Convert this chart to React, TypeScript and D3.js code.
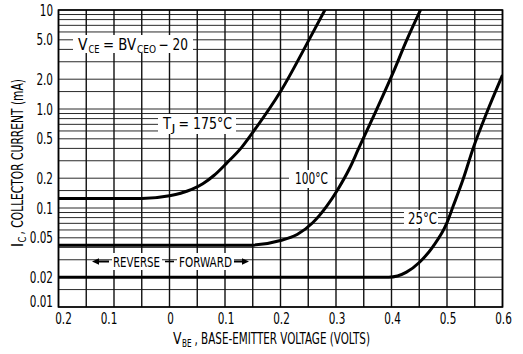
import React from "react";
import * as d3 from "d3";

const xTicks = [-0.2, -0.1, 0, 0.1, 0.2, 0.3, 0.4, 0.5, 0.6];
const xTickLabels = ["0.2", "0.1", "0", "0.1", "0.2", "0.3", "0.4", "0.5", "0.6"];
const yTicks = [0.01, 0.02, 0.05, 0.1, 0.2, 0.5, 1, 2, 5, 10];
const yTickLabels = ["0.01", "0.02", "0.05", "0.1", "0.2", "0.5", "1.0", "2.0", "5.0", "10"];
const gridMultipliers = [1, 1.5, 2, 3, 4, 5, 6, 7, 8, 9];
const gridDecades = [0.01, 0.1, 1];

const t175V = [-0.2, -0.05, 0, 0.02, 0.04, 0.06, 0.08, 0.103, 0.13, 0.15, 0.2, 0.253, 0.282];
const t175I = [0.125, 0.125, 0.133, 0.141, 0.154, 0.176, 0.213, 0.284, 0.41, 0.58, 1.5, 5.2, 10.5];

const t100V = [-0.2, 0.14, 0.2, 0.23, 0.258, 0.283, 0.3035, 0.325, 0.34, 0.373, 0.4025, 0.427, 0.454];
const t100I = [0.042, 0.042, 0.047, 0.054, 0.071, 0.104, 0.155, 0.255, 0.39, 0.98, 2.3, 4.9, 10.5];

const t25V = [-0.2, 0.395, 0.427, 0.451, 0.475, 0.499, 0.511, 0.529, 0.547, 0.571, 0.6];
const t25I = [0.02, 0.02, 0.0225, 0.0285, 0.041, 0.069, 0.104, 0.195, 0.4, 0.9, 2.2];

const FONT = "'DejaVu Sans Condensed','Liberation Sans Narrow',sans-serif";
const LA = "spacingAndGlyphs";

type Part = { t: string; x: number; w: number; sub?: boolean };

function Label({ parts, y, size = 15, subSize = 11 }: { parts: Part[]; y: number; size?: number; subSize?: number }) {
  return (
    <>
      {parts.map((p, k) => (
        <text
          key={k}
          x={p.x}
          y={p.sub ? y + 3 : y}
          fontSize={p.sub ? subSize : size}
          textLength={p.w}
          lengthAdjust={LA}
        >
          {p.t}
        </text>
      ))}
    </>
  );
}

function tickLen(s: string) {
  let w = 0;
  for (const c of s) w += c === "." ? 3.4 : 6.6;
  return w;
}

export default function App() {
  const W = 523, H = 354;
  const x = d3.scaleLinear().domain([-0.2, 0.6]).range([58.5, 502.5]);
  const y = d3.scaleLog().domain([0.01, 10]).range([307, 10]);
  const [x0, x1] = x.range();
  const [yb, yt] = y.range();

  const vGrid = d3.range(-0.2, 0.6001, 0.05);
  const hGrid: number[] = [];
  gridDecades.forEach((d) => gridMultipliers.forEach((m) => hGrid.push(d * m)));
  hGrid.push(10);

  const line = d3
    .line<[number, number]>()
    .x((d) => x(d[0]))
    .y((d) => y(d[1]))
    .curve(d3.curveMonotoneX);

  const series = [
    { v: t175V, i: t175I },
    { v: t100V, i: t100I },
    { v: t25V, i: t25I },
  ];

  return (
    <svg width={W} height={H} style={{ position: "absolute", left: 0, top: 0, background: "#fff" }}>
      <defs>
        <clipPath id="plot">
          <rect x={x0} y={yt} width={x1 - x0} height={yb - yt} />
        </clipPath>
      </defs>
      <rect x={0} y={0} width={W} height={H} fill="#fff" />
      {hGrid.map((g, k) => (
        <line key={"h" + k} x1={x0} x2={x1} y1={y(g)} y2={y(g)} stroke="#2a2a2a" strokeWidth={1} />
      ))}
      {vGrid.map((g, k) => (
        <line key={"v" + k} x1={x(g)} x2={x(g)} y1={yt} y2={yb} stroke="#111" strokeWidth={1.4} />
      ))}
      <rect x={x0} y={yt} width={x1 - x0} height={yb - yt} fill="none" stroke="#000" strokeWidth={1.6} />

      <g clipPath="url(#plot)">
        {series.map((s, k) => (
          <path
            key={"s" + k}
            d={line(s.v.map((v, j) => [v, s.i[j]] as [number, number])) || ""}
            fill="none"
            stroke="#000"
            strokeWidth={3}
            strokeLinejoin="round"
          />
        ))}
      </g>

      <g fontFamily={FONT} fill="#000">
        {/* V_CE annotation */}
        <rect x={73} y={35} width={120} height={18} fill="#fff" />
        <Label
          y={50}
          parts={[
            { t: "V", x: 78, w: 9.5 },
            { t: "CE", x: 88.5, w: 11, sub: true },
            { t: "= BV", x: 103, w: 33 },
            { t: "CEO", x: 137, w: 19, sub: true },
            { t: "− 20", x: 158.5, w: 29.5 },
          ]}
        />

        {/* T_J = 175 */}
        <rect x={158} y={114} width={78} height={20} fill="#fff" />
        <Label
          y={129}
          parts={[
            { t: "T", x: 163, w: 8 },
            { t: "J", x: 171.5, w: 4, sub: true },
            { t: "= 175°C", x: 178.5, w: 53.5 },
          ]}
        />

        {/* 100 */}
        <rect x={289} y={170} width={46} height={18} fill="#fff" />
        <text x={295} y={183.5} fontSize={15} textLength={33} lengthAdjust={LA}>100°C</text>

        {/* 25 */}
        <rect x={404} y={210} width={34} height={18} fill="#fff" />
        <text x={408} y={224} fontSize={15} textLength={29} lengthAdjust={LA}>25°C</text>

        {/* Reverse / forward */}
        <rect x={112} y={253} width={50} height={17} fill="#fff" />
        <rect x={177} y={253} width={57} height={17} fill="#fff" />
        <text x={113} y={267} fontSize={14} textLength={47} lengthAdjust={LA}>REVERSE</text>
        <text x={179} y={267} fontSize={14} textLength={53} lengthAdjust={LA}>FORWARD</text>
        <line x1={165} x2={174} y1={261.5} y2={261.5} stroke="#000" strokeWidth={1.6} />
        <line x1={97} x2={109} y1={261.5} y2={261.5} stroke="#000" strokeWidth={2} />
        <path d="M92,261.5 L99,258.3 L99,264.7 Z" fill="#000" />
        <line x1={234} x2={243} y1={261.5} y2={261.5} stroke="#000" strokeWidth={2} />
        <path d="M249,261.5 L242,258.3 L242,264.7 Z" fill="#000" />

        {/* Y ticks */}
        {yTicks.map((t, k) => (
          <text
            key={"yt" + k}
            x={53 - tickLen(yTickLabels[k])}
            y={Math.min(y(t) + 5.5, 307)}
            fontSize={16}
            textLength={tickLen(yTickLabels[k])}
            lengthAdjust={LA}
          >
            {yTickLabels[k]}
          </text>
        ))}
        {/* X ticks */}
        {xTicks.map((t, k) => {
          const cx = x(t) + (k === 0 ? 5 : k === 1 ? -5 : 1);
          const w = tickLen(xTickLabels[k]);
          return (
            <text key={"xt" + k} x={cx - w / 2} y={324} fontSize={16} textLength={w} lengthAdjust={LA}>
              {xTickLabels[k]}
            </text>
          );
        })}

        {/* Axis titles */}
        <Label
          y={343.5}
          parts={[
            { t: "V", x: 173, w: 8.5 },
            { t: "BE", x: 182, w: 9.5, sub: true },
            { t: ", BASE-EMITTER VOLTAGE (VOLTS)", x: 194.5, w: 175.5 },
          ]}
        />
        <g transform="translate(23,247) rotate(-90)">
          <Label
            y={0}
            parts={[
              { t: "I", x: 0, w: 4 },
              { t: "C", x: 4.5, w: 6, sub: true },
              { t: ", COLLECTOR CURRENT (mA)", x: 12.5, w: 155.5 },
            ]}
          />
        </g>
      </g>
    </svg>
  );
}
